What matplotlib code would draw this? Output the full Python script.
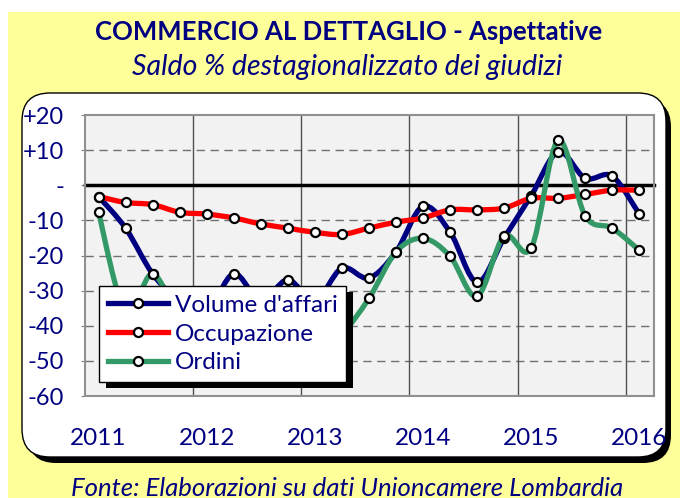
import matplotlib
matplotlib.use("Agg")
import matplotlib.pyplot as plt
from matplotlib.path import Path
from matplotlib.patches import PathPatch, FancyBboxPatch, Rectangle
from matplotlib.lines import Line2D
from matplotlib.transforms import IdentityTransform

# Quarterly data, Q1 2011 .. Q1 2016 (values behind the legend are estimates)
quarters = list(range(21))
year_labels = ["2011", "2012", "2013", "2014", "2015", "2016"]
year_ticks = [0, 4, 8, 12, 16, 20]

volume = [-3.2, -12.2, -25.2, -33.0, -36.0, -25.2, -33.0, -26.9, -33.0, -23.6, -26.4,
          -19.0, -6.0, -13.3, -27.6, -15.0, -3.0, 9.5, 2.0, 2.6, -8.2]
occupazione = [-3.2, -4.9, -5.5, -7.7, -8.2, -9.3, -11.0, -12.2, -13.4, -14.0, -12.2,
               -10.5, -9.3, -7.0, -7.0, -6.5, -3.7, -3.7, -2.6, -1.4, -1.4]
ordini = [-7.7, -36.0, -25.2, -38.0, -42.0, -36.0, -40.0, -38.0, -44.0, -42.0, -32.2,
          -19.0, -15.1, -20.2, -31.6, -14.5, -17.9, 12.8, -8.7, -12.2, -18.5]

series = [
    ("Volume d'affari", volume, "#000080"),
    ("Occupazione", occupazione, "#FF0000"),
    ("Ordini", ordini, "#339966"),
]

NAVY = "#000080"
FONT = "Lato"


def smooth_path(xs, ys):
    """Excel-like smoothed line: cubic Bezier segments through every point."""
    n = len(xs)
    verts = [(xs[0], ys[0])]
    codes = [Path.MOVETO]
    for i in range(n - 1):
        x0, y0 = xs[max(i - 1, 0)], ys[max(i - 1, 0)]
        x1, y1 = xs[i], ys[i]
        x2, y2 = xs[i + 1], ys[i + 1]
        x3, y3 = xs[min(i + 2, n - 1)], ys[min(i + 2, n - 1)]
        verts += [(x1 + (x2 - x0) / 6, y1 + (y2 - y0) / 6),
                  (x2 - (x3 - x1) / 6, y2 - (y3 - y1) / 6),
                  (x2, y2)]
        codes += [Path.CURVE4] * 3
    return Path(verts, codes)


fig = plt.figure(figsize=(6.8, 4.98), dpi=100, facecolor="white")
px = IdentityTransform()

# yellow background, rounded white panel with black shadow
fig.add_artist(Rectangle((8, 0), 672, 486, transform=px, facecolor="#FFFF99",
                         edgecolor="none", zorder=-3))
fig.add_artist(FancyBboxPatch((28, 35), 643, 364, transform=px,
                              boxstyle="round,pad=0,rounding_size=28",
                              facecolor="black", edgecolor="none", zorder=-2))
fig.add_artist(FancyBboxPatch((22, 41), 644, 364, transform=px,
                              boxstyle="round,pad=0,rounding_size=28",
                              facecolor="white", edgecolor="black", lw=1.0, zorder=-1))

fig.text(0.513, 0.936, "COMMERCIO AL DETTAGLIO - Aspettative", ha="center", va="center",
         fontsize=18.5, fontweight="bold", color=NAVY, family=FONT)
fig.text(0.511, 0.866, "Saldo % destagionalizzato dei giudizi", ha="center", va="center",
         fontsize=20.5, fontstyle="italic", color=NAVY, family=FONT)
fig.text(0.51, 0.02, "Fonte: Elaborazioni su dati Unioncamere Lombardia", ha="center",
         va="center", fontsize=18.5, fontstyle="italic", color=NAVY, family=FONT)

ax = fig.add_axes([0.125, 0.2048, 0.837, 0.5642])
ax.set_facecolor("#F2F2F2")
ax.set_xlim(-0.5, 20.55)
ax.set_ylim(-60, 20)

for y in [-50, -40, -30, -20, -10, 10]:
    ax.axhline(y, color="#707070", lw=1.0, ls=(0, (6, 4)), zorder=1)
for x in [3.5, 7.5, 11.5, 15.5, 19.5]:
    ax.axvline(x, color="#505050", lw=1.0, zorder=1)
ax.axhline(0, color="black", lw=2.5, zorder=2, clip_on=False)

for name, vals, color in series:
    ax.add_patch(PathPatch(smooth_path(quarters, vals), facecolor="none",
                           edgecolor=color, lw=3.8, capstyle="round",
                           joinstyle="round", zorder=3))
for name, vals, color in series:
    ax.plot(quarters, vals, ls="none", marker="o", ms=6.5, mfc="white",
            mec="black", mew=1.6, zorder=4)

ax.set_yticks([20, 10, 0, -10, -20, -30, -40, -50, -60])
ax.set_yticklabels(["+20", "+10", "-", "-10", "-20", "-30", "-40", "-50", "-60"],
                   family=FONT, fontsize=17, color=NAVY)
ax.set_xticks(year_ticks)
ax.set_xticklabels(year_labels, family=FONT, fontsize=17.5, color=NAVY)
ax.tick_params(axis="y", length=3, color="#808080", pad=12)
ax.tick_params(axis="x", length=0, pad=23)
for s in ax.spines.values():
    s.set_color("#909090")
    s.set_linewidth(1.5)

handles = [Line2D([], [], color=c, lw=3.8, marker="o", ms=6.5, mfc="white",
                  mec="black", mew=1.6) for _, _, c in series]
leg = ax.legend(handles, [n for n, _, _ in series], loc="lower left",
                bbox_to_anchor=(0.025, 0.05), borderaxespad=0, fancybox=False,
                framealpha=1, edgecolor="black", handlelength=2.5,
                handletextpad=0.25, labelspacing=0.32, borderpad=0.35,
                prop={"family": FONT, "size": 17.5})
for t in leg.get_texts():
    t.set_color(NAVY)
leg.get_frame().set_linewidth(1.0)
leg.set_zorder(6)

fig.canvas.draw()
bb = leg.get_window_extent()
ax.add_patch(Rectangle((bb.x0 + 7, bb.y0 - 6), bb.width, bb.height, transform=px,
                       facecolor="black", edgecolor="none", zorder=5.5))

fig.savefig("out.png", dpi=100, facecolor=fig.get_facecolor())
